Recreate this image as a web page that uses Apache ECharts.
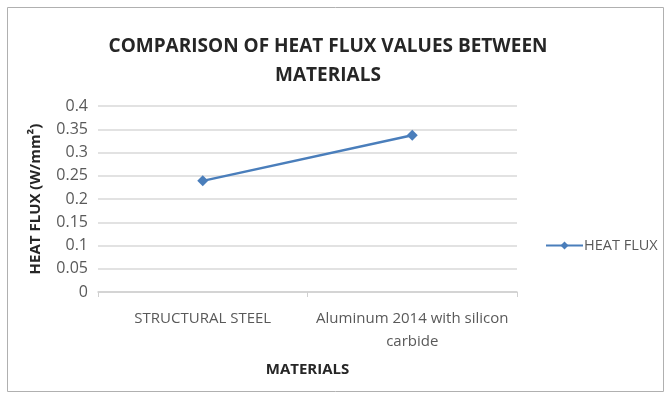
<!DOCTYPE html>
<html><head><meta charset="utf-8">
<script src="https://cdn.jsdelivr.net/npm/echarts@6/dist/echarts.min.js"></script>
<style>html,body{margin:0;padding:0;background:#fff}#c{width:670px;height:396px}</style>
</head><body><div id="c"></div>
<script>
const categories = ['STRUCTURAL STEEL', 'Aluminum 2014 with silicon\ncarbide'];
const heatFlux = [0.239, 0.337];
const seriesName = 'HEAT FLUX';
const titleText = 'COMPARISON OF HEAT FLUX VALUES BETWEEN\nMATERIALS';
const yAxisName = 'HEAT FLUX (W/mm\u00B2)';
const xAxisName = 'MATERIALS';

const chart = echarts.init(document.getElementById('c'), null, {renderer: 'canvas'});
const fam = '"Open Sans", "Liberation Sans", sans-serif';
chart.setOption({
  backgroundColor: '#fff',
  animation: false,
  graphic: [{type: 'rect', shape: {x: 7.5, y: 7.5, width: 656, height: 384}, style: {fill: 'none', stroke: '#b0b0b0', lineWidth: 1}}],
  title: {
    text: titleText, left: 323, top: 27, textAlign: 'center',
    textStyle: {fontFamily: fam, fontWeight: 'bold', fontSize: 19, color: '#262626', lineHeight: 29}
  },
  legend: {
    data: [seriesName], left: 540, top: 233,
    itemWidth: 37, itemHeight: 10, itemGap: 2,
    textStyle: {fontFamily: fam, fontSize: 14.5, color: '#595959', padding: [0, 0, 0, -4]}
  },
  grid: {left: 98, right: 153, top: 106, bottom: 104, containLabel: false},
  xAxis: {
    type: 'category', data: categories, boundaryGap: true,
    name: xAxisName, nameLocation: 'middle', nameGap: 70,
    nameTextStyle: {fontFamily: fam, fontWeight: 'bold', fontSize: 15, color: '#262626'},
    axisLine: {lineStyle: {color: '#d0d0d0', width: 1.5}},
    axisTick: {show: true, alignWithLabel: false, lineStyle: {color: '#d0d0d0'}},
    axisLabel: {interval: 0, hideOverlap: false, fontFamily: fam, fontSize: 15, color: '#595959', margin: 15, lineHeight: 23}
  },
  yAxis: {
    type: 'value', min: 0, max: 0.4, interval: 0.05,
    name: yAxisName, nameLocation: 'middle', nameGap: 55, nameRotate: 90,
    nameTextStyle: {fontFamily: fam, fontWeight: 'bold', fontSize: 15, color: '#262626'},
    axisLine: {show: false}, axisTick: {show: false},
    axisLabel: {fontFamily: fam, fontSize: 16, color: '#595959', margin: 10},
    splitLine: {lineStyle: {color: '#d9d9d9', width: 1.5}}
  },
  series: [{
    name: seriesName, type: 'line', data: heatFlux,
    symbol: 'path://M0,5L5,0L10,5L5,10Z', symbolSize: 11,
    lineStyle: {color: '#4a7ebb', width: 2.5},
    itemStyle: {color: '#4a7ebb'}
  }]
});
</script></body></html>
